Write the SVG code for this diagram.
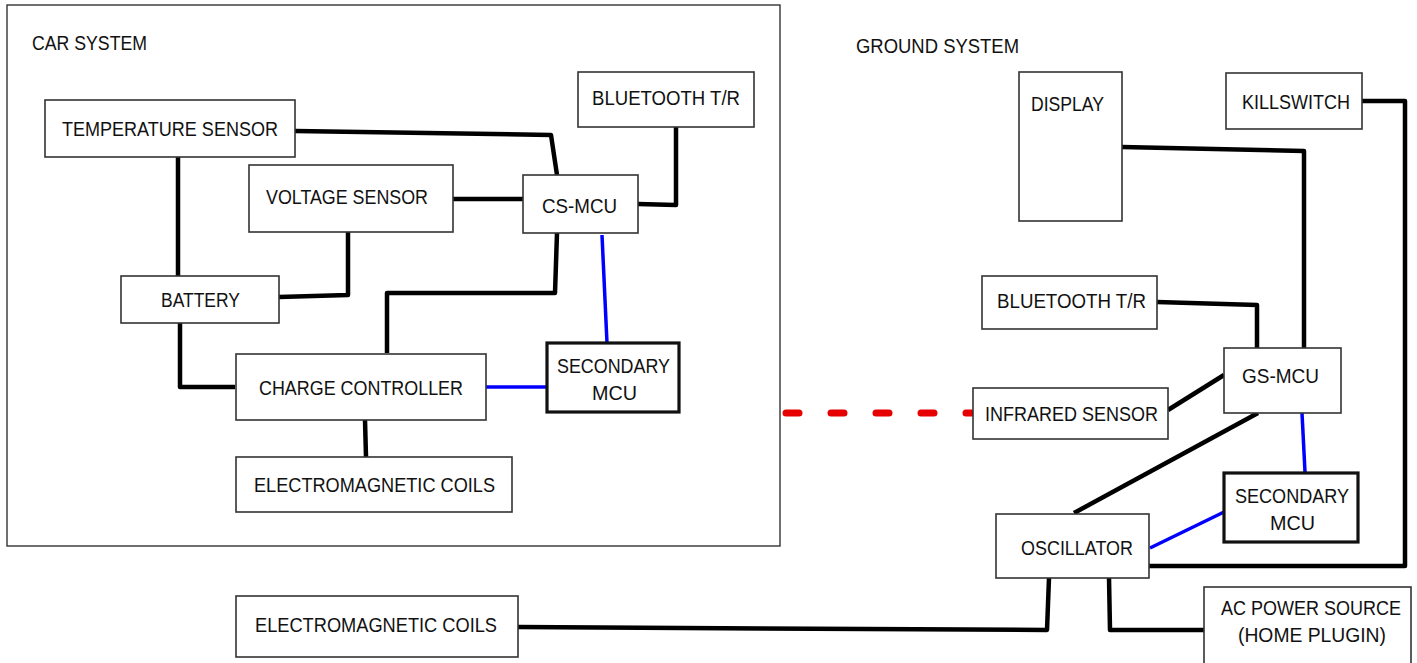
<svg xmlns="http://www.w3.org/2000/svg" width="1417" height="663" viewBox="0 0 1417 663">
<style>
.box{fill:#fff;stroke:#333;stroke-width:1.6}
.thick{fill:#fff;stroke:#111;stroke-width:3.2}
.frame{fill:none;stroke:#333;stroke-width:1.4}
text{font-family:"Liberation Sans",Arial,sans-serif;font-size:19.5px;fill:#111}
.k{fill:none;stroke:#000;stroke-width:4.5;stroke-linejoin:round}
.b{fill:none;stroke:#0000ff;stroke-width:3.5}
.r{fill:none;stroke:#e60000;stroke-width:7;stroke-linecap:round;stroke-dasharray:13 32}
</style>
<rect width="1417" height="663" fill="#fff"/>
<g id="car-system-frame">
<rect class="frame" x="7" y="5" width="773" height="541"/>
<text x="32" y="50" textLength="115" lengthAdjust="spacingAndGlyphs">CAR SYSTEM</text>
</g>
<g id="ground-system-label">
<text x="856" y="53" textLength="163" lengthAdjust="spacingAndGlyphs">GROUND SYSTEM</text>
</g>
<g id="connectors">
<polyline class="k" points="295,131 551,135 557,175"/>
<line class="k" x1="178" y1="157" x2="178" y2="276"/>
<polyline class="k" points="348,232 348,295 279,297"/>
<line class="k" x1="453" y1="199" x2="523" y2="199"/>
<polyline class="k" points="638,204 676,205 676,127"/>
<polyline class="k" points="557,233 555,293 387,293 387,353"/>
<line class="b" x1="602" y1="235" x2="607" y2="343"/>
<polyline class="k" points="180,323 180,387 235,387"/>
<line class="b" x1="486" y1="387" x2="547" y2="387"/>
<line class="k" x1="365" y1="420" x2="366" y2="457"/>
<polyline class="k" points="518,627 1047,630 1049,578"/>
<line class="r" x1="786" y1="413" x2="972" y2="413"/>
<polyline class="k" points="1122,147 1304,151 1304,348"/>
<polyline class="k" points="1362,101 1405,101 1405,566 1149,566"/>
<polyline class="k" points="1157,302 1257,305 1257,348"/>
<line class="k" x1="1168" y1="410" x2="1224" y2="375"/>
<line class="k" x1="1258" y1="413" x2="1074" y2="513"/>
<line class="b" x1="1302" y1="413" x2="1305" y2="472"/>
<line class="b" x1="1150" y1="548" x2="1224" y2="512"/>
<polyline class="k" points="1109,578 1110,630 1204,630"/>
</g>
<g id="temperature-sensor">
<rect class="box" x="45" y="100" width="250" height="57"/>
<text x="62" y="136" textLength="216" lengthAdjust="spacingAndGlyphs">TEMPERATURE SENSOR</text>
</g>
<g id="voltage-sensor">
<rect class="box" x="249" y="165" width="204" height="67"/>
<text x="266" y="204" textLength="162" lengthAdjust="spacingAndGlyphs">VOLTAGE SENSOR</text>
</g>
<g id="battery">
<rect class="box" x="121" y="276" width="158" height="47"/>
<text x="161" y="307" textLength="79" lengthAdjust="spacingAndGlyphs">BATTERY</text>
</g>
<g id="cs-mcu">
<rect class="box" x="523" y="175" width="115" height="58"/>
<text x="542" y="213" textLength="75" lengthAdjust="spacingAndGlyphs">CS-MCU</text>
</g>
<g id="car-bluetooth">
<rect class="box" x="578" y="72" width="176" height="55"/>
<text x="592" y="105" textLength="148" lengthAdjust="spacingAndGlyphs">BLUETOOTH T/R</text>
</g>
<g id="car-secondary-mcu">
<rect class="thick" x="547" y="343" width="132" height="69"/>
<text x="557" y="373" textLength="113" lengthAdjust="spacingAndGlyphs">SECONDARY</text>
<text x="592" y="400" textLength="45" lengthAdjust="spacingAndGlyphs">MCU</text>
</g>
<g id="charge-controller">
<rect class="box" x="236" y="354" width="250" height="66"/>
<text x="259" y="395" textLength="204" lengthAdjust="spacingAndGlyphs">CHARGE CONTROLLER</text>
</g>
<g id="car-em-coils">
<rect class="box" x="236" y="457" width="276" height="55"/>
<text x="254" y="492" textLength="241" lengthAdjust="spacingAndGlyphs">ELECTROMAGNETIC COILS</text>
</g>
<g id="ground-em-coils">
<rect class="box" x="236" y="596" width="282" height="61"/>
<text x="255" y="632" textLength="242" lengthAdjust="spacingAndGlyphs">ELECTROMAGNETIC COILS</text>
</g>
<g id="display">
<rect class="box" x="1019" y="72" width="103" height="149"/>
<text x="1031" y="111" textLength="73" lengthAdjust="spacingAndGlyphs">DISPLAY</text>
</g>
<g id="killswitch">
<rect class="box" x="1226" y="73" width="136" height="56"/>
<text x="1242" y="109" textLength="108" lengthAdjust="spacingAndGlyphs">KILLSWITCH</text>
</g>
<g id="ground-bluetooth">
<rect class="box" x="982" y="276" width="175" height="53"/>
<text x="997" y="308" textLength="149" lengthAdjust="spacingAndGlyphs">BLUETOOTH T/R</text>
</g>
<g id="gs-mcu">
<rect class="box" x="1224" y="348" width="117" height="65"/>
<text x="1242" y="383" textLength="77" lengthAdjust="spacingAndGlyphs">GS-MCU</text>
</g>
<g id="infrared-sensor">
<rect class="box" x="973" y="388" width="195" height="51"/>
<text x="985" y="421" textLength="173" lengthAdjust="spacingAndGlyphs">INFRARED SENSOR</text>
</g>
<g id="ground-secondary-mcu">
<rect class="thick" x="1224" y="473" width="134" height="69"/>
<text x="1235" y="503" textLength="114" lengthAdjust="spacingAndGlyphs">SECONDARY</text>
<text x="1270" y="530" textLength="45" lengthAdjust="spacingAndGlyphs">MCU</text>
</g>
<g id="oscillator">
<rect class="box" x="996" y="514" width="153" height="64"/>
<text x="1021" y="555" textLength="112" lengthAdjust="spacingAndGlyphs">OSCILLATOR</text>
</g>
<g id="ac-power-source">
<rect class="box" x="1204" y="587" width="207" height="90"/>
<text x="1221" y="615" textLength="180" lengthAdjust="spacingAndGlyphs">AC POWER SOURCE</text>
<text x="1238" y="642" textLength="148" lengthAdjust="spacingAndGlyphs">(HOME PLUGIN)</text>
</g>
</svg>
